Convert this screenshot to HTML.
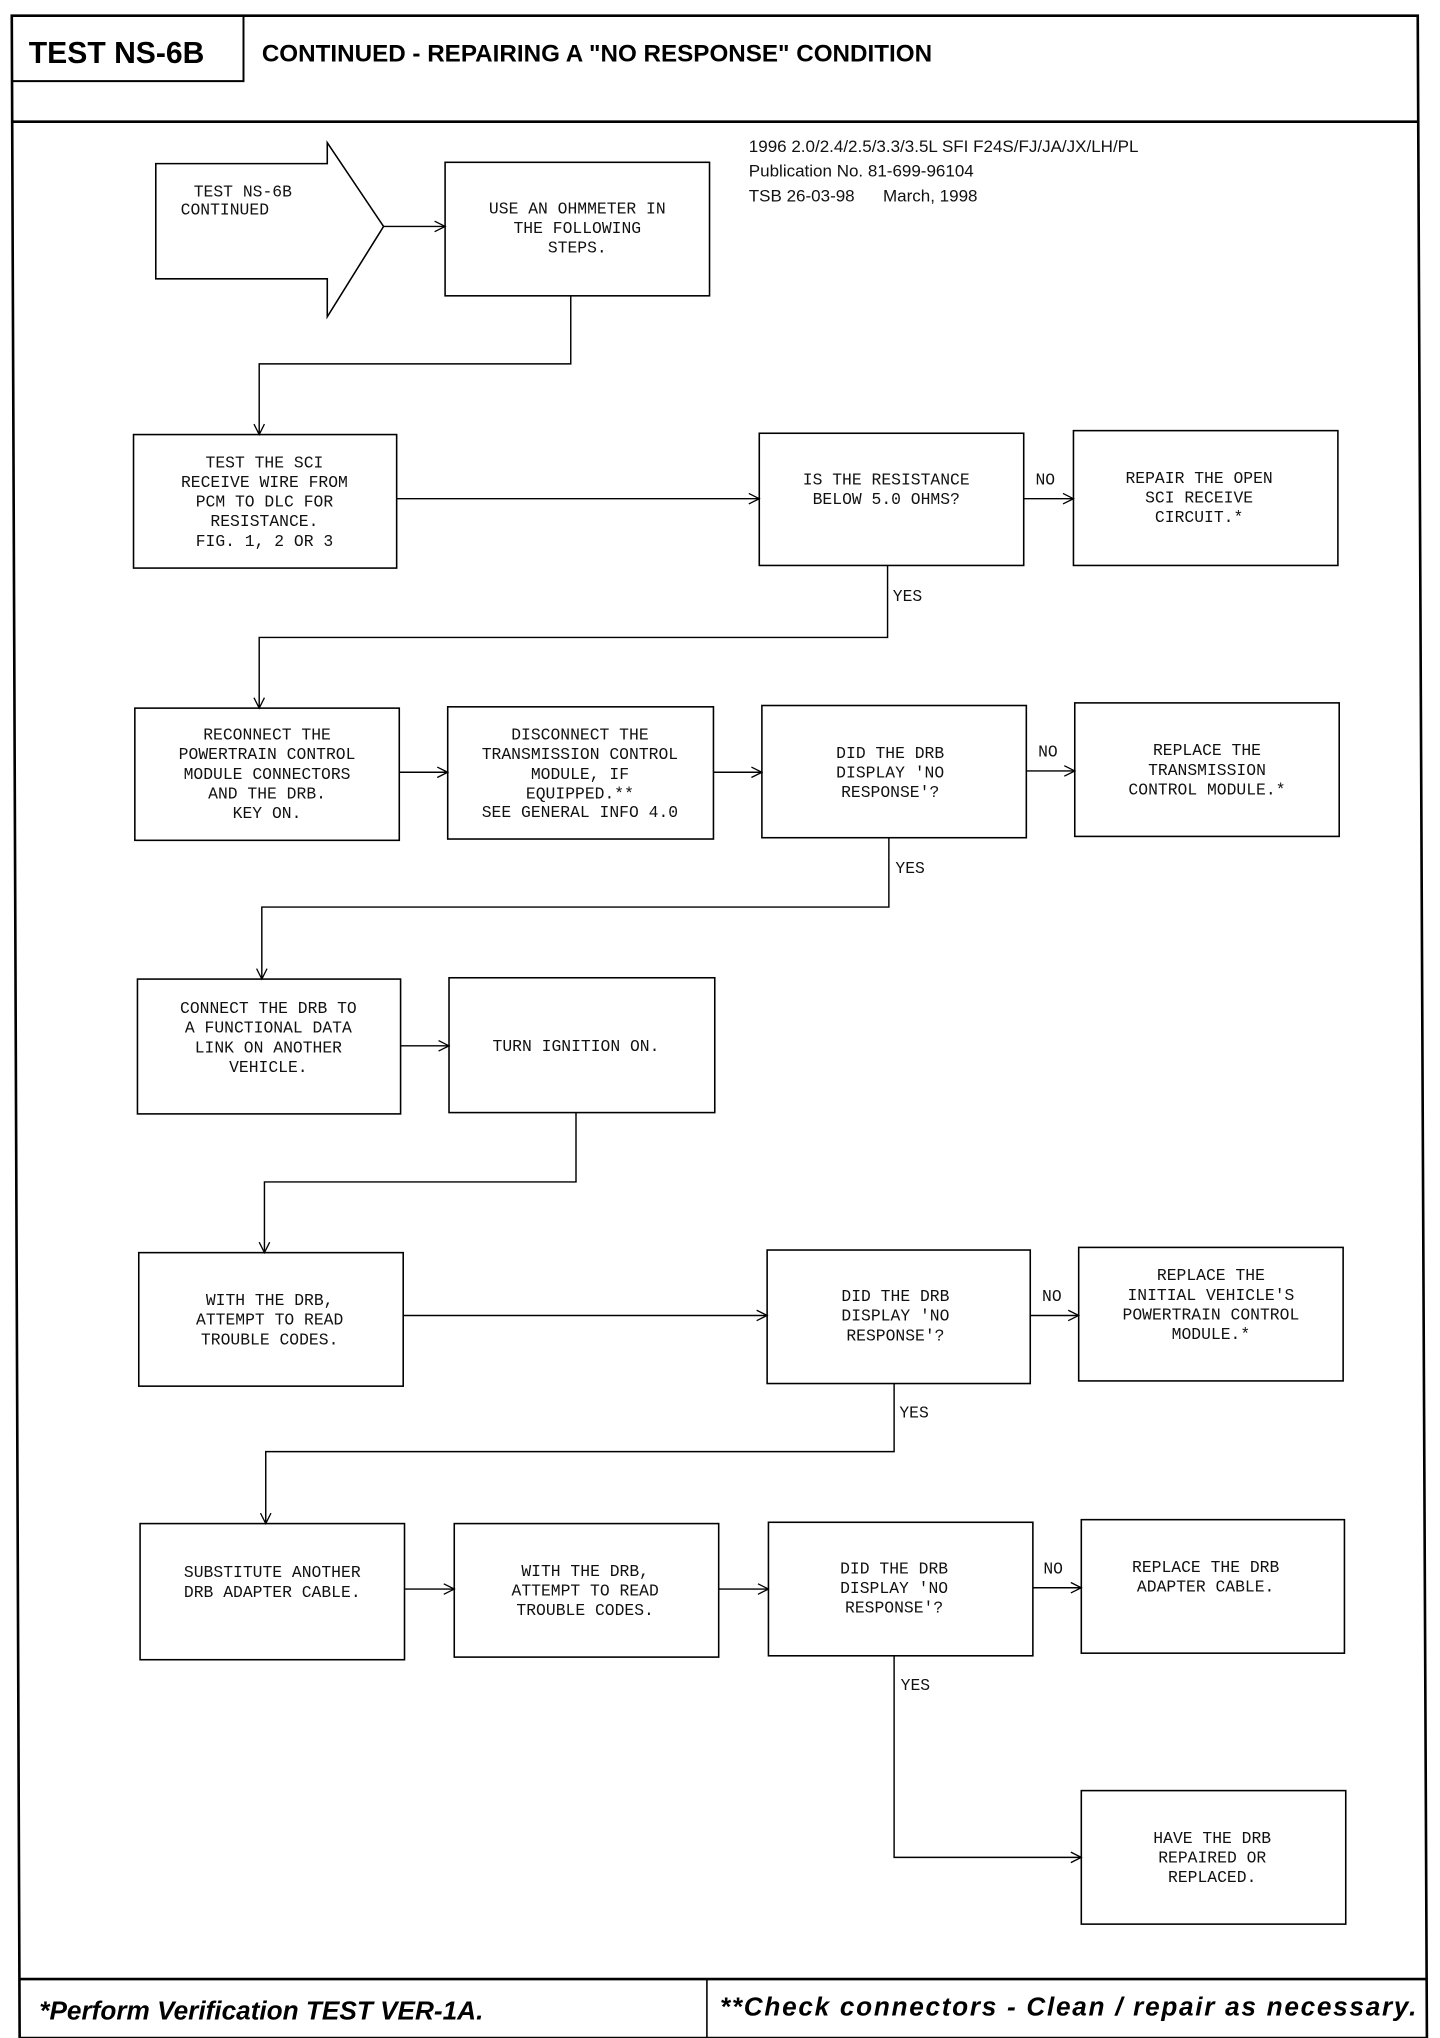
<!DOCTYPE html>
<html><head><meta charset="utf-8"><style>
html,body{margin:0;padding:0;background:#fff;}
svg{display:block;}
.m{font-family:"Liberation Mono",monospace;font-size:12.5px;fill:#111;text-anchor:middle;}
.l{font-family:"Liberation Mono",monospace;font-size:12.5px;fill:#111;}
.s{font-family:"Liberation Sans",sans-serif;font-size:13px;fill:#111;}
</style></head><body>
<svg width="1440" height="2038" viewBox="0 0 1100 1557" preserveAspectRatio="none" xmlns="http://www.w3.org/2000/svg">
<defs><marker id="a" markerWidth="10" markerHeight="10" refX="9" refY="5" orient="auto" markerUnits="userSpaceOnUse"><path d="M1,1 L9,5 L1,9" fill="none" stroke="#000" stroke-width="1"/></marker></defs>
<g fill="none" stroke="#000">
<path d="M9,12 L1083,12 L1090,1557 L15,1557 Z" stroke-width="2"/>
<path d="M9,62 L186,62 L186,12" stroke-width="1.5"/>
<line x1="9" y1="93" x2="1084" y2="93" stroke-width="2"/>
<line x1="15" y1="1512" x2="1090" y2="1512" stroke-width="2"/>
<line x1="540" y1="1512" x2="540" y2="1557" stroke-width="1.2"/>
<g stroke-width="1.2">
<path d="M119,125 L250,125 L250,109 L293,173 L250,242 L250,213 L119,213 Z"/>
<rect x="340" y="124" width="202" height="102"/>
<rect x="102" y="332" width="201" height="102"/>
<rect x="580" y="331" width="202" height="101"/>
<rect x="820" y="329" width="202" height="103"/>
<rect x="103" y="541" width="202" height="101"/>
<rect x="342" y="540" width="203" height="101"/>
<rect x="582" y="539" width="202" height="101"/>
<rect x="821" y="537" width="202" height="102"/>
<rect x="105" y="748" width="201" height="103"/>
<rect x="343" y="747" width="203" height="103"/>
<rect x="106" y="957" width="202" height="102"/>
<rect x="586" y="955" width="201" height="102"/>
<rect x="824" y="953" width="202" height="102"/>
<rect x="107" y="1164" width="202" height="104"/>
<rect x="347" y="1164" width="202" height="102"/>
<rect x="587" y="1163" width="202" height="102"/>
<rect x="826" y="1161" width="201" height="102"/>
<rect x="826" y="1368" width="202" height="102"/>
</g>
<g stroke-width="1.1" marker-end="url(#a)">
<line x1="293" y1="173" x2="340" y2="173"/>
<path d="M436,226 L436,278 L198,278 L198,332"/>
<line x1="303" y1="381" x2="580" y2="381"/>
<line x1="782" y1="381" x2="820" y2="381"/>
<path d="M678,432 L678,487 L198,487 L198,541"/>
<line x1="305" y1="590" x2="342" y2="590"/>
<line x1="545" y1="590" x2="582" y2="590"/>
<line x1="784" y1="589" x2="821" y2="589"/>
<path d="M679,640 L679,693 L200,693 L200,748"/>
<line x1="306" y1="799" x2="343" y2="799"/>
<path d="M440,850 L440,903 L202,903 L202,957"/>
<line x1="308" y1="1005" x2="586" y2="1005"/>
<line x1="787" y1="1005" x2="824" y2="1005"/>
<path d="M683,1057 L683,1109 L203,1109 L203,1164"/>
<line x1="309" y1="1214" x2="347" y2="1214"/>
<line x1="549" y1="1214" x2="587" y2="1214"/>
<line x1="789" y1="1213" x2="826" y2="1213"/>
<path d="M683,1265 L683,1419 L826,1419"/>
</g>
</g>
<text x="22" y="48" font-family="Liberation Sans,sans-serif" font-weight="bold" font-size="23" fill="#000">TEST NS-6B</text>
<text x="200" y="47" font-family="Liberation Sans,sans-serif" font-weight="bold" font-size="18.5" fill="#000">CONTINUED - REPAIRING A "NO RESPONSE" CONDITION</text>
<text class="s" x="572" y="116">1996 2.0/2.4/2.5/3.3/3.5L SFI F24S/FJ/JA/JX/LH/PL</text>
<text class="s" x="572" y="135">Publication No. 81-699-96104</text>
<text class="s" x="572" y="154">TSB 26-03-98 &#160;&#160;&#160;&#160; March, 1998</text>
<text class="l" x="148" y="150">TEST NS-6B</text>
<text class="l" x="138" y="164">CONTINUED</text>
<g class="m">
<text x="441" y="163">USE AN OHMMETER IN</text><text x="441" y="178">THE FOLLOWING</text><text x="441" y="193">STEPS.</text>
<text x="202" y="357">TEST THE SCI</text><text x="202" y="372">RECEIVE WIRE FROM</text><text x="202" y="387">PCM TO DLC FOR</text><text x="202" y="402">RESISTANCE.</text><text x="202" y="417">FIG. 1, 2 OR 3</text>
<text x="677" y="370">IS THE RESISTANCE</text><text x="677" y="385">BELOW 5.0 OHMS?</text>
<text x="916" y="369">REPAIR THE OPEN</text><text x="916" y="384">SCI RECEIVE</text><text x="916" y="399">CIRCUIT.*</text>
<text x="204" y="565">RECONNECT THE</text><text x="204" y="580">POWERTRAIN CONTROL</text><text x="204" y="595">MODULE CONNECTORS</text><text x="204" y="610">AND THE DRB.</text><text x="204" y="625">KEY ON.</text>
<text x="443" y="565">DISCONNECT THE</text><text x="443" y="580">TRANSMISSION CONTROL</text><text x="443" y="595">MODULE, IF</text><text x="443" y="610">EQUIPPED.**</text><text x="443" y="624">SEE GENERAL INFO 4.0</text>
<text x="680" y="579">DID THE DRB</text><text x="680" y="594">DISPLAY 'NO</text><text x="680" y="609">RESPONSE'?</text>
<text x="922" y="577">REPLACE THE</text><text x="922" y="592">TRANSMISSION</text><text x="922" y="607">CONTROL MODULE.*</text>
<text x="205" y="774">CONNECT THE DRB TO</text><text x="205" y="789">A FUNCTIONAL DATA</text><text x="205" y="804">LINK ON ANOTHER</text><text x="205" y="819">VEHICLE.</text>
<text x="440" y="803">TURN IGNITION ON.</text>
<text x="206" y="997">WITH THE DRB,</text><text x="206" y="1012">ATTEMPT TO READ</text><text x="206" y="1027">TROUBLE CODES.</text>
<text x="684" y="994">DID THE DRB</text><text x="684" y="1009">DISPLAY 'NO</text><text x="684" y="1024">RESPONSE'?</text>
<text x="925" y="978">REPLACE THE</text><text x="925" y="993">INITIAL VEHICLE'S</text><text x="925" y="1008">POWERTRAIN CONTROL</text><text x="925" y="1023">MODULE.*</text>
<text x="208" y="1205">SUBSTITUTE ANOTHER</text><text x="208" y="1220">DRB ADAPTER CABLE.</text>
<text x="447" y="1204">WITH THE DRB,</text><text x="447" y="1219">ATTEMPT TO READ</text><text x="447" y="1234">TROUBLE CODES.</text>
<text x="683" y="1202">DID THE DRB</text><text x="683" y="1217">DISPLAY 'NO</text><text x="683" y="1232">RESPONSE'?</text>
<text x="921" y="1201">REPLACE THE DRB</text><text x="921" y="1216">ADAPTER CABLE.</text>
<text x="926" y="1408">HAVE THE DRB</text><text x="926" y="1423">REPAIRED OR</text><text x="926" y="1438">REPLACED.</text>
</g>
<g class="l">
<text x="791" y="370">NO</text><text x="682" y="459">YES</text>
<text x="793" y="578">NO</text><text x="684" y="667">YES</text>
<text x="796" y="994">NO</text><text x="687" y="1083">YES</text>
<text x="797" y="1202">NO</text><text x="688" y="1291">YES</text>
</g>
<text x="30" y="1543" font-family="Liberation Sans,sans-serif" font-weight="bold" font-style="italic" font-size="20" fill="#000">*Perform Verification TEST VER-1A.</text>
<text x="550" y="1540" font-family="Liberation Sans,sans-serif" font-weight="bold" font-style="italic" font-size="20" fill="#000" textLength="532">**Check connectors - Clean / repair as necessary.</text>
</svg>
</body></html>
